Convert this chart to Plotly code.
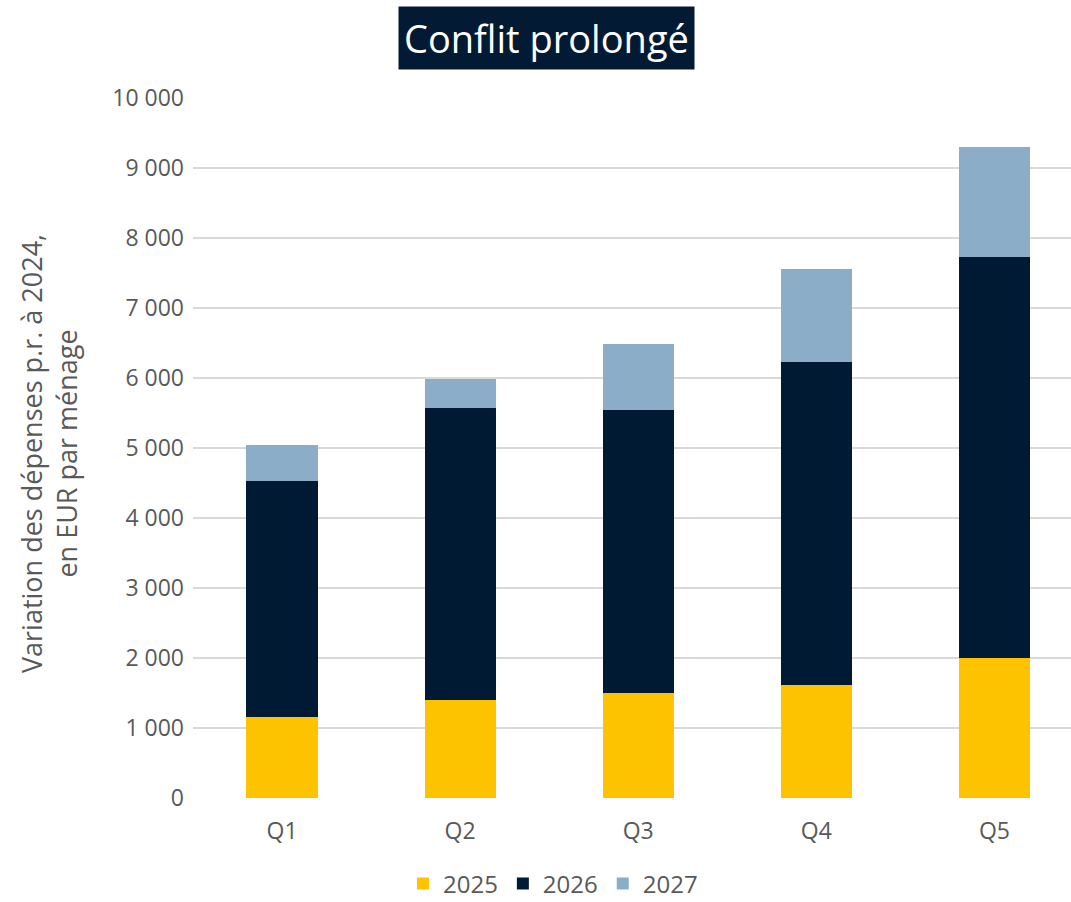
import plotly.graph_objects as go

categories = ["Q1", "Q2", "Q3", "Q4", "Q5"]
years = ["2025", "2026", "2027"]
v2025 = [1160, 1400, 1500, 1610, 2000]
v2026 = [3370, 4170, 4040, 4620, 5730]
v2027 = [510, 420, 950, 1330, 1570]
tick_vals = [0, 1000, 2000, 3000, 4000, 5000, 6000, 7000, 8000, 9000, 10000]
tick_text = ["0", "1 000", "2 000", "3 000", "4 000", "5 000",
             "6 000", "7 000", "8 000", "9 000", "10 000"]

COLORS = {"2025": "#FDC300", "2026": "#001A33", "2027": "#8BADC8"}
TEXT = "#595959"
FONT = "Open Sans, sans-serif"

fig = go.Figure()
for year, vals in zip(years, [v2025, v2026, v2027]):
    fig.add_trace(go.Bar(
        x=categories, y=vals, name=year,
        marker=dict(color=COLORS[year], line=dict(width=0)),
    ))

fig.update_layout(
    barmode="stack",
    bargap=0.6,
    width=1071, height=902,
    margin=dict(l=193, r=0, t=98, b=104),
    paper_bgcolor="white",
    plot_bgcolor="white",
    font=dict(family=FONT, color=TEXT, size=23),
    showlegend=True,
    legend=dict(orientation="h", xref="paper", x=0.41, xanchor="center",
                yref="container", y=(902 - 884) / 902, yanchor="middle",
                font=dict(size=24, color=TEXT), traceorder="normal"),
    xaxis=dict(range=[-0.5, 4.43], showgrid=False, showline=False,
               ticks="", automargin=False, ticklabelstandoff=17,
               tickfont=dict(size=23, color=TEXT)),
    yaxis=dict(range=[0, 10000], tickvals=tick_vals, ticktext=tick_text,
               gridcolor="#D9D9D9", gridwidth=2, zeroline=False,
               showline=False, ticks="", automargin=False,
               ticklabelstandoff=8,
               tickfont=dict(size=23, color=TEXT)),
    annotations=[
        dict(text="Conflit prolongé", xref="paper", yref="paper",
             x=0.403, y=1.0857, xanchor="center", yanchor="middle",
             showarrow=False, bgcolor="#021A33", borderpad=5,
             font=dict(family=FONT, size=38, color="white")),
        dict(text="Variation des dépenses p.r. à 2024,<br>en EUR par ménage",
             xref="paper", yref="paper", x=-0.164, y=0.4914,
             xanchor="center", yanchor="middle", textangle=-90,
             showarrow=False, align="center",
             font=dict(family=FONT, size=27, color=TEXT)),
    ],
)

fig.write_html("out.html", config={"displayModeBar": False},
               post_script="document.body.style.margin='0';")
